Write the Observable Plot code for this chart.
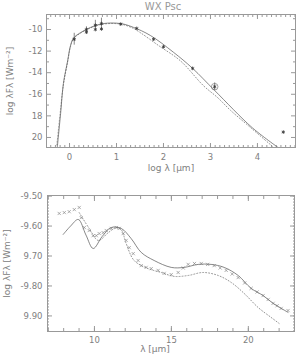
<!DOCTYPE html>
<html><head><meta charset="utf-8">
<script src="https://cdn.jsdelivr.net/npm/d3@7"></script>
<script src="https://cdn.jsdelivr.net/npm/@observablehq/plot@0.6"></script>
<style>
body{margin:0;background:#fff;}
#wrap{position:relative;width:296px;height:356px;overflow:hidden;background:#fff;}
#p1{position:absolute;left:0;top:0;}
#p2{position:absolute;left:0;top:180px;}
</style></head><body><div id="wrap"><div id="p1"></div><div id="p2"></div></div>
<script>
// ---- texts ----
const title = "WX Psc";
const sedXLabel = "log λ [μm]";
const sedYLabel = "log λFλ [Wm⁻²]";
const specXLabel = "λ [μm]";
const specYLabel = "log λFλ [Wm⁻²]";

// ---- upper panel ticks ----
const sedXTicks = [0, 1, 2, 3, 4];
const sedXTickLabels = ["0", "1", "2", "3", "4"];
const sedYTicks = [-10, -12, -14, -16, -18, -20];
const sedYTickLabels = ["-10", "-12", "-14", "-16", "18", "20"];
const sedYMinor = [-9, -11, -13, -15, -17, -19];

// ---- upper panel data ----
const photLogLam = [0.10, 0.36, 0.55, 0.68, 1.09, 1.43, 1.79, 2.00, 2.62, 3.09, 4.55];
const photLogF   = [-10.9, -10.0, -9.6, -9.45, -9.5, -9.9, -10.9, -11.6, -13.6, -15.3, -19.5];
const photErr    = [0.55, 0.25, 0.45, 0.5, 0, 0, 0, 0, 0, 0.35, 0];
const photLogLam2 = [0.36, 0.55, 0.68];
const photLogF2   = [-10.25, -10.0, -9.95];
const photCircled = [3.09];
const photCircledF = [-15.3];

const sedSolidX = [-0.26, -0.19, -0.13, -0.04, 0.02, 0.085, 0.23, 0.45, 0.72, 1.09, 1.36, 1.72, 2.21, 2.62, 3.09, 3.89, 4.43];
const sedSolidY = [-20.9, -17.8, -15.0, -12.9, -11.5, -10.8, -10.3, -9.8, -9.45, -9.45, -9.8, -10.55, -12.1, -13.6, -15.65, -19.1, -20.9];
const sedDotX = [-0.27, -0.2, -0.13, -0.04, 0.02, 0.085, 0.23, 0.45, 0.72, 1.09, 1.36, 1.51, 1.9, 2.36, 2.85, 3.15, 3.43, 3.85, 4.34];
const sedDotY = [-20.7, -17.8, -15.1, -13.0, -11.6, -10.85, -10.35, -9.85, -9.5, -9.5, -9.9, -10.3, -11.5, -12.9, -15.2, -16.3, -17.5, -19.07, -20.9];

// ---- lower panel ticks ----
const specXTicks = [10, 15, 20];
const specXTickLabels = ["10", "15", "20"];
const specYTicks = [-9.5, -9.6, -9.7, -9.8, -9.9];
const specYTickLabels = ["-9.50", "-9.60", "9.70", "-9.80", "9.90"];

// ---- lower panel data ----
const specLam = [7.71, 8.04, 8.36, 8.69, 9.01, 9.14, 9.34, 9.66, 9.92, 10.12, 10.31, 10.57, 10.77, 11.09, 11.42, 11.61, 11.87, 12.06, 12.26, 12.52, 12.84, 13.04, 13.36, 13.69, 14.14, 14.53, 14.99, 15.44, 15.77, 16.09, 16.5, 16.94, 17.36, 17.78, 18.17, 18.56, 18.95, 19.34, 19.76, 20.18, 20.57, 20.96, 21.29, 21.61, 21.87, 22.13, 22.58];
const specFlux = [-9.558, -9.555, -9.552, -9.545, -9.538, -9.572, -9.605, -9.615, -9.632, -9.632, -9.625, -9.622, -9.615, -9.608, -9.605, -9.608, -9.625, -9.648, -9.672, -9.692, -9.715, -9.732, -9.738, -9.742, -9.748, -9.758, -9.762, -9.755, -9.740, -9.728, -9.725, -9.725, -9.728, -9.732, -9.740, -9.748, -9.760, -9.772, -9.790, -9.808, -9.820, -9.832, -9.845, -9.858, -9.866, -9.875, -9.882];

const specSolidLam = [7.97, 8.45, 8.95, 9.45, 9.92, 10.5, 11.09, 11.74, 12.39, 13.04, 13.88, 14.99, 15.83, 16.74, 17.58, 18.43, 19.34, 20.18, 20.96, 21.61, 22.58];
const specSolidFlux = [-9.628, -9.600, -9.578, -9.630, -9.675, -9.635, -9.605, -9.608, -9.642, -9.688, -9.715, -9.738, -9.738, -9.728, -9.728, -9.738, -9.765, -9.808, -9.832, -9.858, -9.888];
const specDotLam = [9.01, 9.66, 10.25, 10.90, 11.42, 11.74, 12.06, 12.58, 13.49, 14.34, 15.18, 16.09, 17.06, 18.04, 18.88, 19.73, 20.64, 21.48, 22.0];
const specDotFlux = [-9.555, -9.608, -9.648, -9.622, -9.605, -9.612, -9.658, -9.715, -9.742, -9.755, -9.768, -9.765, -9.755, -9.765, -9.788, -9.825, -9.872, -9.905, -9.925];

// ---- build ----
const FONT = "'DejaVu Sans', sans-serif";
const TXT = "#808080";
const AX = "#999";
const style = {fontFamily: FONT, fontSize: "8.5px", color: TXT, background: "white", overflow: "visible"};
const lab = (ticks, labels) => { const m = new Map(ticks.map((t, i) => [t, labels[i]])); return d => m.get(d); };
const zip = (xs, ys, extra = {}) => xs.map((x, i) => ({x, y: ys[i], ...Object.fromEntries(Object.entries(extra).map(([k, v]) => [k, v[i]]))}));

const sedMinorX = d3.range(-4, 49).map(i => i / 10);

const solidSed = zip(sedSolidX, sedSolidY);
const dotSed = zip(sedDotX, sedDotY);
const phot = zip(photLogLam, photLogF, {e: photErr});
const phot2 = zip(photLogLam2, photLogF2);
const photC = zip(photCircled, photCircledF);

const sed = Plot.plot({
  width: 296, height: 175, marginTop: 14, marginBottom: 28, marginLeft: 46, marginRight: 1,
  style,
  x: {domain: [-0.49, 4.81]},
  y: {domain: [-20.93, -8.61]},
  marks: [
    Plot.axisX({anchor: "bottom", ticks: sedMinorX, tickSize: -2, fill: "none", stroke: AX, label: null}),
    Plot.axisX({anchor: "top", ticks: sedMinorX, tickSize: -2, fill: "none", stroke: AX, label: null}),
    Plot.axisX({anchor: "bottom", ticks: sedXTicks, tickSize: -4, fill: "none", stroke: AX, label: null}),
    Plot.axisX({anchor: "top", ticks: sedXTicks, tickSize: -4, fill: "none", stroke: AX, label: null}),
    Plot.axisX({anchor: "bottom", ticks: sedXTicks, tickSize: 0, tickPadding: 6, tickFormat: lab(sedXTicks, sedXTickLabels), fill: TXT, label: null}),
    Plot.axisY({anchor: "left", ticks: sedYTicks, tickSize: -5, fill: "none", stroke: AX, label: null}),
    Plot.axisY({anchor: "right", ticks: sedYTicks, tickSize: -5, fill: "none", stroke: AX, label: null}),
    Plot.axisY({anchor: "left", ticks: sedYMinor, tickSize: -3, fill: "none", stroke: AX, label: null}),
    Plot.axisY({anchor: "right", ticks: sedYMinor, tickSize: -3, fill: "none", stroke: AX, label: null}),
    Plot.axisY({anchor: "left", ticks: sedYTicks, tickSize: 0, tickPadding: 4, tickFormat: lab(sedYTicks, sedYTickLabels), fill: TXT, label: null}),
    Plot.frame({stroke: AX}),
    Plot.line(dotSed, {x: "x", y: "y", curve: "catmull-rom", stroke: "#888", strokeWidth: 0.9, strokeDasharray: "1,2", clip: true}),
    Plot.line(solidSed, {x: "x", y: "y", curve: "catmull-rom", stroke: "#555", strokeWidth: 0.7, clip: true}),
    Plot.ruleX(phot.filter(d => d.e > 0), {x: "x", y1: d => d.y - d.e, y2: d => d.y + d.e, stroke: "#555", strokeWidth: 0.7}),
    Plot.dot(phot, {x: "x", y: "y", symbol: "asterisk", r: 1.7, stroke: "#333", strokeWidth: 0.8}),
    Plot.dot(phot2, {x: "x", y: "y", symbol: "asterisk", r: 1.7, stroke: "#333", strokeWidth: 0.8}),
    Plot.dot(photC, {x: "x", y: "y", symbol: "circle", r: 3.3, stroke: "#666", strokeWidth: 0.6, fill: "none"}),
    Plot.text([title], {frameAnchor: "top", dx: -8, dy: -8, fontSize: 10, fill: "#999", textAnchor: "middle", lineAnchor: "middle", style: "letter-spacing:1.5px"}),
    Plot.text([sedXLabel], {frameAnchor: "bottom", dy: 21, fill: TXT, fontSize: 9, textAnchor: "middle", lineAnchor: "middle"}),
    Plot.text([sedYLabel], {frameAnchor: "left", dx: -36, rotate: -90, fill: TXT, fontSize: 9, textAnchor: "middle", lineAnchor: "middle"})
  ]
});
document.getElementById("p1").appendChild(sed);

const specMinorX = d3.range(7, 24);
const specMinorY = d3.range(-995, -949).map(i => i / 100);
const specPts = zip(specLam, specFlux);
const solidSpec = zip(specSolidLam, specSolidFlux);
const dotSpec = zip(specDotLam, specDotFlux);

const spec = Plot.plot({
  width: 296, height: 176, marginTop: 15, marginBottom: 25, marginLeft: 47, marginRight: 2,
  style,
  x: {domain: [6.95, 23.0]},
  y: {domain: [-9.952, -9.498]},
  marks: [
    Plot.axisX({anchor: "bottom", ticks: specMinorX, tickSize: -3, fill: "none", stroke: AX, label: null}),
    Plot.axisX({anchor: "top", ticks: specMinorX, tickSize: -3, fill: "none", stroke: AX, label: null}),
    Plot.axisX({anchor: "bottom", ticks: specXTicks, tickSize: -5, fill: "none", stroke: AX, label: null}),
    Plot.axisX({anchor: "top", ticks: specXTicks, tickSize: -5, fill: "none", stroke: AX, label: null}),
    Plot.axisX({anchor: "bottom", ticks: specXTicks, tickSize: 0, tickPadding: 5, tickFormat: lab(specXTicks, specXTickLabels), fill: TXT, label: null}),
    Plot.axisY({anchor: "left", ticks: specMinorY, tickSize: -2, fill: "none", stroke: AX, label: null}),
    Plot.axisY({anchor: "right", ticks: specMinorY, tickSize: -2, fill: "none", stroke: AX, label: null}),
    Plot.axisY({anchor: "left", ticks: specYTicks, tickSize: -5, fill: "none", stroke: AX, label: null}),
    Plot.axisY({anchor: "right", ticks: specYTicks, tickSize: -5, fill: "none", stroke: AX, label: null}),
    Plot.axisY({anchor: "left", ticks: specYTicks, tickSize: 0, tickPadding: 5, tickFormat: lab(specYTicks, specYTickLabels), fill: TXT, label: null}),
    Plot.frame({stroke: AX}),
    Plot.line(dotSpec, {x: "x", y: "y", curve: "catmull-rom", stroke: "#888", strokeWidth: 0.9, strokeDasharray: "1,2"}),
    Plot.line(solidSpec, {x: "x", y: "y", curve: "catmull-rom", stroke: "#555", strokeWidth: 0.7}),
    Plot.dot(specPts, {x: "x", y: "y", symbol: "times", r: 1.6, stroke: "#777", strokeWidth: 0.6}),
    Plot.text([specXLabel], {frameAnchor: "bottom", dx: -16, dy: 18, fill: TXT, fontSize: 9, textAnchor: "middle", lineAnchor: "middle"}),
    Plot.text([specYLabel], {frameAnchor: "left", dx: -40, rotate: -90, fill: TXT, fontSize: 9, textAnchor: "middle", lineAnchor: "middle"})
  ]
});
document.getElementById("p2").appendChild(spec);
</script>
</body></html>
